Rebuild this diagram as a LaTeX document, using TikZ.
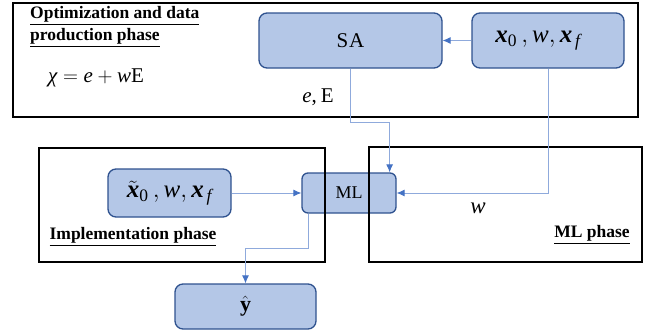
\documentclass[tikz,border=0pt]{standalone}
\usepackage{amsmath}
\usepackage{fontspec}
\setmainfont{Liberation Serif}
\usetikzlibrary{arrows.meta}

\definecolor{boxfill}{HTML}{B4C7E7}
\definecolor{boxedge}{HTML}{2F528F}
\definecolor{linkline}{HTML}{8FAADC}
\definecolor{linktip}{HTML}{4472C4}

% symbols set in the text font
\newcommand{\bvx}{\text{\bfseries\itshape x}}
\newcommand{\ivw}{\text{\itshape w}}
\newcommand{\ulabel}[1]{\underline{#1}}

\begin{document}
\begin{tikzpicture}[x=1pt,y=-1pt,
  blockbox/.style={draw=boxedge, fill=boxfill, line width=1.3pt, rounded corners=8pt,
    inner sep=0pt},
  phaseframe/.style={draw=black, line width=1.4pt},
  link/.style={draw=linkline, line width=0.9pt, -{Latex[length=8pt,width=7pt,color=linktip]}},
  phaselabel/.style={font=\fontsize{17.5}{21}\selectfont\bfseries, inner sep=0pt},
  vecfont/.style={font=\fontsize{25}{29}\selectfont}
]
\useasboundingbox (0,0) rectangle (646,332);

% blocks
\node[blockbox, minimum width=183pt, minimum height=55pt] (SA) at (350.5,40.5)
  {\fontsize{21}{25}\selectfont S\kern1ptA};
\node[blockbox, vecfont, minimum width=152pt, minimum height=55pt] (X0) at (548,40.5)
  {$\bvx_{\text{0}}\,,\ivw,\bvx_{\,\text{\itshape f}}$\hspace*{20pt}};
\node[blockbox, rounded corners=6pt, minimum width=94pt, minimum height=40pt] (ML) at (349,193)
  {\fontsize{18}{21}\selectfont ML};
\node[blockbox, vecfont, minimum width=123pt, minimum height=48pt] (XT) at (169.5,193)
  {$\tilde{\bvx}_{\text{0}}\,,\ivw,\bvx_{\,\text{\itshape f}}$};
\node[blockbox, minimum width=141pt, minimum height=45pt] (Y) at (245.5,306.5)
  {\fontsize{22}{26}\selectfont $\hat{\mathbf{y}}$};

% phase frames, drawn over the blocks
\draw[phaseframe] (13,3) rectangle (638,117);
\draw[phaseframe] (39,148) rectangle (325,262);
\draw[phaseframe] (369,147) rectangle (642,262);

% labels
\node[phaselabel, anchor=north west, align=left] (optlabel) at (30,6)
  {\ulabel{Optimization and data}\\[1pt]\ulabel{production phase}};
\node[inner sep=0pt] (chi) at (96,78)
  {\fontsize{21}{25}\selectfont $\text{\itshape χ} = \text{\itshape e} + \ivw\text{E}$};
\node[inner sep=0pt] (eE) at (318,97)
  {\fontsize{21}{25}\selectfont {\itshape e},\kern4pt E};
\node[phaselabel] (impllabel) at (133,237) {\ulabel{Implementation phase}};
\node[phaselabel] (mllabel) at (592,235) {\ulabel{ML phase}};
\node[inner sep=0pt] (wlabel) at (478,208) {\fontsize{23}{27}\selectfont\itshape w};

% connectors
\draw[link] (X0.west) -- (SA.east);
\draw[link] (SA.south) -- ++(0,54) -| ([xshift=-7pt]ML.north east);
\draw[link] (X0.south) |- (ML.east);
\draw[link] (XT.east) -- (ML.west);
\draw[link] ([xshift=7pt]ML.south west) -- ++(0,35) -| (Y.north);
\end{tikzpicture}
\end{document}
